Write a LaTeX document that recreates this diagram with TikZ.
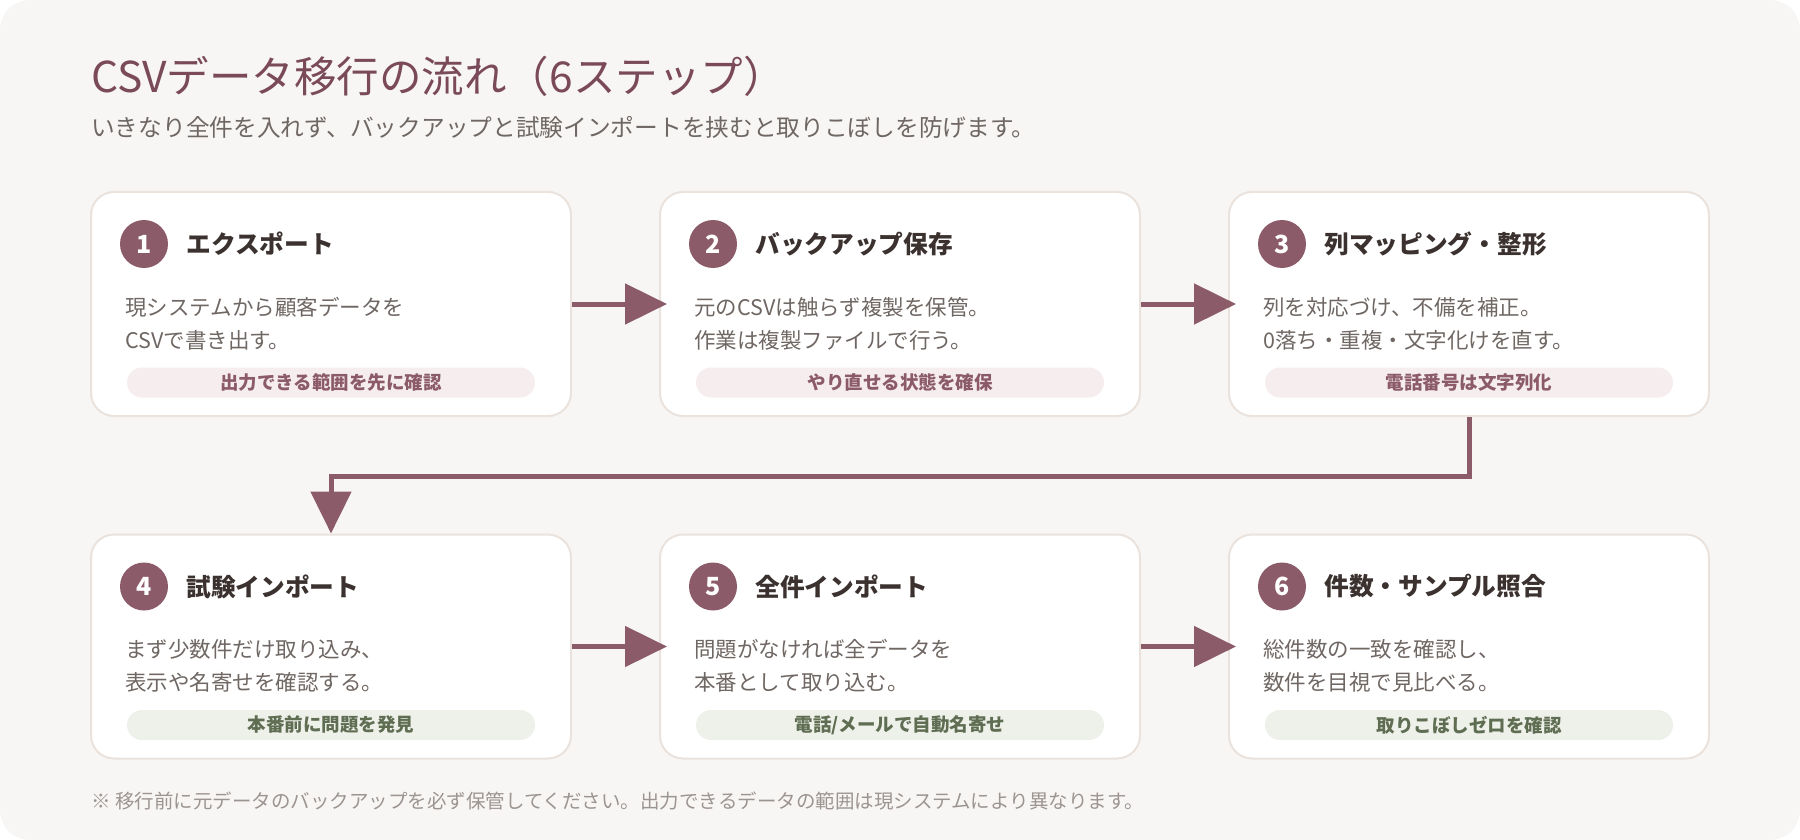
\documentclass[tikz,border=0pt]{standalone}
\usepackage{fontspec}
\setmainfont{Noto Sans CJK JP}
\usetikzlibrary{positioning,arrows.meta}
\definecolor{pagebg}{HTML}{F8F6F4}
\definecolor{cardline}{HTML}{EAE2DC}
\definecolor{accent}{HTML}{8C5B69}
\definecolor{titletext}{HTML}{7A4A5A}
\definecolor{headtext}{HTML}{3B3230}
\definecolor{desctext}{HTML}{6F6763}
\definecolor{notetext}{HTML}{9C9490}
\definecolor{pinkfill}{HTML}{F6EDEF}
\definecolor{greenfill}{HTML}{EEF0EA}
\definecolor{greentext}{HTML}{5F6E52}

\begin{document}
\begin{tikzpicture}[x=1pt,y=-1pt,
	card/.style={draw=cardline, line width=2pt, fill=white, rounded corners=23pt, minimum width=480pt, minimum height=224pt, inner sep=0pt},
	num/.style={circle, fill=accent, text=white, minimum size=48pt, inner sep=0pt, font=\bfseries\fontsize{25}{25}\selectfont},
	head/.style={inner sep=0pt, text=headtext, font=\bfseries\fontsize{24.7}{28}\selectfont},
	desc/.style={anchor=west, inner sep=0pt, align=left, text=desctext, font=\fontsize{21.5}{33}\selectfont},
	tagbox/.style={rounded corners=15pt, minimum width=408pt, minimum height=30pt, inner sep=0pt, font=\bfseries\fontsize{18.5}{20}\selectfont},
	pinktag/.style={tagbox, fill=pinkfill, text=accent},
	greentag/.style={tagbox, fill=greenfill, text=greentext},
	flow/.style={draw=accent, line width=5pt, -{Triangle[length=42pt,width=40pt]}}
	]
	% page
	\fill[white] (0,0) rectangle (1800,840);
	\fill[pagebg, rounded corners=30pt] (0,0) rectangle (1800,840);
	\useasboundingbox (0,0) rectangle (1800,840);

	\node[anchor=west, inner sep=0pt, text=titletext, font=\fontsize{42.5}{48}\selectfont] (title) at (91,76) {CSVデータ移行の流れ（6ステップ）};
	\node[anchor=west, inner sep=0pt, text=desctext, font=\fontsize{23.7}{28}\selectfont] (subtitle) at (91,127) {いきなり全件を入れず、バックアップと試験インポートを挟むと取りこぼしを防げます。};

	% cards
	\foreach \i/\x/\y in {1/331/304, 2/900/304, 3/1469/304, 4/331/646.5, 5/900/646.5, 6/1469/646.5}
		\node[card] (card\i) at (\x,\y) {};

	\foreach \i/\t in {1/エクスポート, 2/バックアップ保存, 3/列マッピング・整形, 4/試験インポート, 5/全件インポート, 6/件数・サンプル照合} {
		\node[num] (num\i) at ([shift={(54,53)}]card\i.north west) {\i};
		\node[head, right=18pt of num\i] (head\i) {\t};
	}

	\foreach \i/\a/\b in {1/現システムから顧客データを/CSVで書き出す。, 2/元のCSVは触らず複製を保管。/作業は複製ファイルで行う。, 3/列を対応づけ、不備を補正。/0落ち・重複・文字化けを直す。, 4/まず少数件だけ取り込み、/表示や名寄せを確認する。, 5/問題がなければ全データを/本番として取り込む。, 6/総件数の一致を確認し、/数件を目視で見比べる。}
		\node[desc] (desc\i) at ([shift={(35,132.5)}]card\i.north west) {\a\\\b};

	\foreach \i/\k/\t in {1/pinktag/出力できる範囲を先に確認, 2/pinktag/やり直せる状態を確保, 3/pinktag/電話番号は文字列化, 4/greentag/本番前に問題を発見, 5/greentag/{電話/メールで自動名寄せ}, 6/greentag/取りこぼしゼロを確認}
		\node[\k] (tag\i) at ([shift={(0,191.5)}]card\i.north) {\t};

	% connectors
	\draw[flow, shorten >=-8pt] (card1) -- (card2);
	\draw[flow, shorten >=-8pt] (card2) -- (card3);
	\draw[flow] (card3.south) -- ++(0,59) -| (card4.north);
	\draw[flow, shorten >=-8pt] (card4) -- (card5);
	\draw[flow, shorten >=-8pt] (card5) -- (card6);

	\node[anchor=west, inner sep=0pt, text=notetext, font=\fontsize{19.5}{22}\selectfont] (note) at (91,801) {※ 移行前に元データのバックアップを必ず保管してください。出力できるデータの範囲は現システムにより異なります。};
\end{tikzpicture}
\end{document}
